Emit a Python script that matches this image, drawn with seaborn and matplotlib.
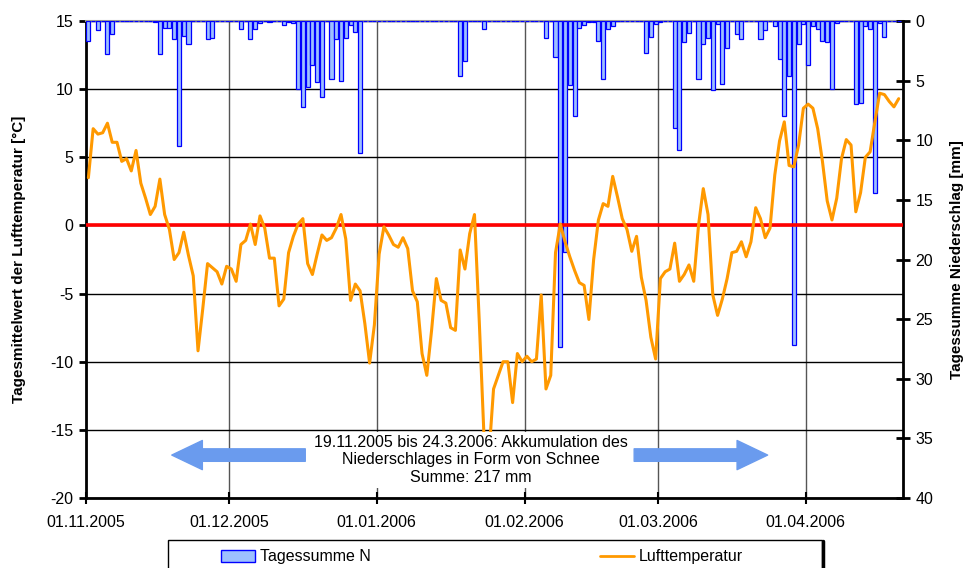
import numpy as np
import pandas as pd
import matplotlib
matplotlib.use('Agg')
import matplotlib.pyplot as plt
import seaborn as sns
from matplotlib.patches import Patch, Rectangle
from matplotlib.lines import Line2D

# daily mean air temperature from 01.11.2005 on (one value per day)
temperature = [
    3.5, 7.1, 6.7, 6.8, 7.5, 6.1, 6.1, 4.7, 4.9, 4.0,
    5.5, 3.1, 2.0, 0.8, 1.4, 3.4, 0.8, -0.3, -2.5, -2.0,
    -0.5, -2.2, -3.7, -9.2, -6.1, -2.8, -3.1, -3.4, -4.3, -3.0,
    -3.2, -4.1, -1.4, -1.1, 0.1, -1.4, 0.7, -0.2, -2.4, -2.4,
    -5.9, -5.4, -2.0, -0.8, 0.1, 0.5, -2.8, -3.6, -2.1, -0.7,
    -1.1, -0.9, -0.2, 0.8, -1.0, -5.5, -4.3, -4.8, -7.2, -10.1,
    -7.3, -2.1, -0.1, -0.7, -1.4, -1.6, -0.9, -1.7, -4.8, -5.6,
    -9.4, -11.0, -7.7, -3.9, -5.5, -5.7, -7.5, -7.7, -1.8, -3.2,
    -0.6, 0.8, -7.0, -15.5, -17.0, -12.0, -11.0, -10.0, -10.0, -13.0,
    -9.4, -10.0, -9.6, -10.0, -9.8, -5.1, -12.0, -11.0, -2.0, 0.1,
    -1.2, -2.3, -3.3, -4.2, -4.4, -6.9, -2.5, 0.4, 1.6, 1.4,
    3.6, 2.1, 0.5, -0.3, -1.9, -0.8, -3.8, -5.5, -8.2, -9.8,
    -3.9, -3.4, -3.2, -1.3, -4.1, -3.6, -2.9, -4.1, 0.0, 2.7,
    0.8, -5.1, -6.6, -5.4, -3.9, -2.0, -1.9, -1.2, -2.3, -1.2,
    1.3, 0.5, -0.9, -0.2, 3.7, 6.2, 7.6, 4.4, 4.3, 5.9,
    8.6, 8.9, 8.6, 7.1, 4.7, 1.8, 0.4, 2.0, 4.9, 6.3,
    5.9, 1.0, 2.4, 5.0, 5.4, 7.6, 9.7, 9.6, 9.1, 8.7,
    9.3,
]

# days (counted from 01.11.2005) with precipitation and the daily sum in mm
rain_day = [0, 2, 4, 5, 14, 15, 16, 17, 18, 19, 20, 21, 25, 26, 32, 34, 35, 36, 38,
            41, 42, 43, 44, 45, 46, 47, 48, 49, 51, 52, 53, 54, 55, 56, 57,
            78, 79, 83, 96, 98, 99, 100, 101, 102, 103, 104, 105, 106, 107, 108, 109, 110,
            117, 118, 119, 120, 123, 124, 125, 126, 128, 129, 130, 131, 132, 133, 134,
            136, 137, 141, 142, 144, 145, 146, 147, 148, 149, 150, 151, 152, 153, 154,
            155, 156, 157, 161, 162, 163, 164, 165, 166, 167]
rain_mm = [1.7, 0.75, 2.8, 1.1, 0.1, 2.8, 0.55, 0.55, 1.55, 10.5, 1.25, 1.95, 1.5, 1.4, 0.65, 1.5, 0.65, 0.15, 0.1,
           0.3, 0.1, 0.2, 5.7, 7.2, 5.5, 3.7, 5.1, 6.4, 4.9, 1.5, 5.0, 1.4, 0.3, 0.9, 11.1,
           4.6, 3.35, 0.65, 1.4, 3.0, 27.3, 19.4, 5.4, 8.0, 0.6, 0.3, 0.1, 0.1, 1.7, 4.9, 0.65, 0.45,
           2.7, 1.35, 0.25, 0.1, 9.0, 10.8, 1.8, 1.0, 4.9, 1.95, 1.4, 5.8, 0.25, 5.3, 2.3,
           1.1, 1.5, 1.5, 0.75, 0.4, 3.2, 8.0, 4.6, 27.2, 1.95, 0.25, 3.7, 0.45, 0.7, 1.7,
           1.8, 5.7, 0.15, 7.0, 6.9, 0.4, 0.65, 14.4, 0.15, 1.35]

month_starts = ['2005-11-01', '2005-12-01', '2006-01-01', '2006-02-01', '2006-03-01', '2006-04-01']
month_labels = ['01.11.2005', '01.12.2005', '01.01.2006', '01.02.2006', '01.03.2006', '01.04.2006']

note = '19.11.2005 bis 24.3.2006: Akkumulation des\nNiederschlages in Form von Schnee\nSumme: 217 mm'
snow_start = '2005-11-19'
snow_end = '2006-03-24'

start = pd.Timestamp('2005-11-01')
n = len(temperature)
precip = np.zeros(n)
precip[rain_day] = rain_mm
df = pd.DataFrame({'Tag': np.arange(n) + 0.5, 'Lufttemperatur': temperature, 'Tagessumme N': precip})

tick_pos = [(pd.Timestamp(m) - start).days for m in month_starts]
d_start = (pd.Timestamp(snow_start) - start).days
d_end = (pd.Timestamp(snow_end) - start).days

sns.set_style('white')
plt.rcParams['font.family'] = ['Liberation Sans', 'DejaVu Sans']
plt.rcParams['axes.unicode_minus'] = False
plt.rcParams['text.color'] = 'black'
plt.rcParams['xtick.color'] = 'black'
plt.rcParams['ytick.color'] = 'black'
plt.rcParams['axes.labelcolor'] = 'black'

bar_fill = '#9DC0FF'
bar_edge = '#0000FF'
line_col = '#FF9900'
arrow_col = '#6A9BEE'

fig = plt.figure(figsize=(9.66, 5.68), dpi=100)
ax = fig.add_axes([86/966, 1 - 498/568, (903 - 86)/966, (498 - 21)/568])
ax2 = ax.twinx()
ax3 = ax.twinx()

# precipitation bars hang from the top (right axis reversed)
ax2.bar(df['Tag'], df['Tagessumme N'], width=0.85, color=bar_fill, edgecolor=bar_edge, linewidth=0.9)
ax2.set_ylim(40, 0)
ax2.set_yticks(range(0, 41, 5))

# temperature line on its own layer so it sits over the bars
ax3.axhline(0, color='#FF0000', lw=2.6, zorder=2)
sns.lineplot(data=df, x='Tag', y='Lufttemperatur', ax=ax3, color=line_col, linewidth=2.2, zorder=3)
ax3.set_ylim(-20, 15)
ax3.axis('off')

ax.set_ylim(-20, 15)
ax.set_xlim(0, 171.4)
ax.set_yticks(range(-20, 16, 5))
ax.set_xticks(tick_pos)
ax.set_xticklabels(month_labels)
ax.grid(axis='y', color='black', lw=1)
ax.grid(axis='x', color='#555555', lw=1)

for s in ['left', 'bottom']:
    ax.spines[s].set_linewidth(2)
    ax.spines[s].set_color('black')
ax.spines['top'].set_color('#999999')
ax.spines['top'].set_linewidth(1.5)
ax.spines['right'].set_visible(False)
for s in ['left', 'bottom', 'top']:
    ax2.spines[s].set_visible(False)
ax2.spines['right'].set_linewidth(2)
ax2.spines['right'].set_color('black')

ax.tick_params(axis='y', direction='out', length=5, width=2, labelsize=11.5, pad=4, left=True)
ax.tick_params(axis='x', direction='inout', length=9, width=1.5, labelsize=11.5, pad=8, bottom=True)
ax2.tick_params(axis='y', direction='inout', length=10, width=2, labelsize=11.5, pad=4, right=True)

ax.set_ylabel('Tagesmittelwert der Lufttemperatur [°C]', fontsize=11, fontweight='bold')
ax.yaxis.set_label_coords(-0.073, 0.5)
ax2.set_ylabel('Tagessumme Niederschlag [mm]', fontsize=11, fontweight='bold')
ax2.yaxis.set_label_coords(1.057, 0.5)

# note and arrows for the snow accumulation period
ax3.text(80.75, -17.2, note, ha='center', va='center', fontsize=11.5, linespacing=1.2,
         bbox=dict(boxstyle='square,pad=0.2', fc='white', ec='none'), zorder=6)
ax3.annotate('', xy=(d_start, -16.85), xytext=(46, -16.85),
             arrowprops=dict(arrowstyle='simple,head_length=2.2,head_width=2.1,tail_width=0.9',
                             color=arrow_col, shrinkA=0, shrinkB=0, mutation_scale=10), zorder=5)
ax3.annotate('', xy=(d_end, -16.85), xytext=(115, -16.85),
             arrowprops=dict(arrowstyle='simple,head_length=2.2,head_width=2.1,tail_width=0.9',
                             color=arrow_col, shrinkA=0, shrinkB=0, mutation_scale=10), zorder=5)

# legend below the plot, frame runs off the bottom edge
handles = [Patch(facecolor=bar_fill, edgecolor=bar_edge, linewidth=1),
           Line2D([], [], color=line_col, lw=2)]
fig.legend(handles, ['Tagessumme N', 'Lufttemperatur'], loc='center',
           bbox_to_anchor=(482/966, 1 - 557/568), ncol=2, frameon=False, fontsize=11.5,
           columnspacing=14.4, handlelength=2.1, handletextpad=0.3)
fig.add_artist(Rectangle((168/966, -0.05), (822 - 168)/966, 0.05 + 1 - 540/568,
                         transform=fig.transFigure, fill=False, ec='black', lw=1))
fig.add_artist(Line2D([823/966, 823/966], [0, 1 - 541/568], transform=fig.transFigure, color='black', lw=2.5))

fig.savefig('out.png', dpi=100, facecolor='white')
